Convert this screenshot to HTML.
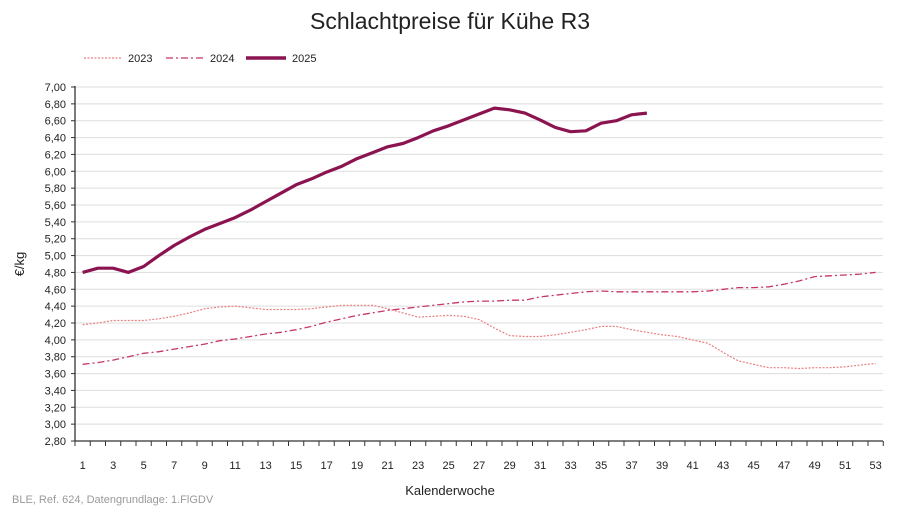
<!DOCTYPE html>
<html><head><meta charset="utf-8"><style>
body{margin:0;background:#fff;width:900px;height:506px;overflow:hidden;font-family:"Liberation Sans",sans-serif}
</style></head><body>
<svg id="s" width="900" height="506" xmlns="http://www.w3.org/2000/svg" font-family="Liberation Sans, sans-serif"></svg>
<script>
const s=document.getElementById('s');
const X=n=>75+15.25*(n-0.5), Y=v=>441-(v-2.8)*84.286;
let h='';
h+='<text x="450" y="29" font-size="23" text-anchor="middle" fill="#222">Schlachtpreise für Kühe R3</text>';
// legend
h+='<line x1="84" y1="58" x2="122" y2="58" stroke="#e88080" stroke-width="1.2" stroke-dasharray="2,1.5"/><text x="128" y="62" font-size="11" fill="#222">2023</text>';
h+='<line x1="166" y1="58" x2="204" y2="58" stroke="#c8346c" stroke-width="1.3" stroke-dasharray="7,3,2,3"/><text x="210" y="62" font-size="11" fill="#222">2024</text>';
h+='<line x1="246" y1="58" x2="286" y2="58" stroke="#8b1450" stroke-width="3.5"/><text x="292" y="62" font-size="11" fill="#222">2025</text>';
for(let i=0;i<=21;i++){const v=2.8+i*0.2,y=Y(v);
 if(i>0)h+=`<line x1="75" y1="${y}" x2="883" y2="${y}" stroke="#ddd" stroke-width="1"/>`;
 h+=`<line x1="71" y1="${y}" x2="75" y2="${y}" stroke="#333"/>`;
 h+=`<text x="66" y="${y+4}" font-size="11" text-anchor="end" fill="#222">${v.toFixed(2).replace('.',',')}</text>`;}
h+='<line x1="75" y1="86" x2="75" y2="441" stroke="#333" stroke-width="1.3"/>';
h+='<line x1="75" y1="441" x2="883" y2="441" stroke="#333" stroke-width="1.3"/>';
for(let i=0;i<=53;i++){const x=75+15.25*i;h+=`<line x1="${x}" y1="441" x2="${x}" y2="446" stroke="#333"/>`;}
for(let n=1;n<=53;n+=2)h+=`<text x="${X(n)}" y="469" font-size="11" text-anchor="middle" fill="#222">${n}</text>`;
h+='<text x="450" y="495" font-size="13" text-anchor="middle" fill="#222">Kalenderwoche</text>';
h+='<text x="24" y="264" font-size="13" text-anchor="middle" fill="#222" transform="rotate(-90 24 264)">€/kg</text>';
h+='<text x="12" y="503" font-size="11" fill="#999">BLE, Ref. 624, Datengrundlage: 1.FlGDV</text>';
const d23=[4.18,4.20,4.23,4.23,4.23,4.25,4.28,4.32,4.37,4.39,4.40,4.38,4.36,4.36,4.36,4.37,4.39,4.41,4.41,4.41,4.37,4.32,4.27,4.28,4.29,4.28,4.24,4.14,4.05,4.04,4.04,4.06,4.09,4.12,4.16,4.16,4.12,4.09,4.06,4.04,4.00,3.96,3.85,3.75,3.71,3.67,3.67,3.66,3.67,3.67,3.68,3.70,3.72];
const d24=[3.71,3.73,3.76,3.80,3.84,3.86,3.89,3.92,3.95,3.99,4.01,4.04,4.07,4.09,4.12,4.16,4.21,4.25,4.29,4.32,4.35,4.37,4.39,4.41,4.43,4.45,4.46,4.46,4.47,4.47,4.51,4.53,4.55,4.57,4.58,4.57,4.57,4.57,4.57,4.57,4.57,4.58,4.60,4.62,4.62,4.63,4.66,4.70,4.75,4.76,4.77,4.78,4.80];
const d25=[4.80,4.85,4.85,4.80,4.87,5.00,5.12,5.22,5.31,5.38,5.45,5.54,5.64,5.74,5.84,5.91,5.99,6.06,6.15,6.22,6.29,6.33,6.40,6.48,6.54,6.61,6.68,6.75,6.73,6.69,6.61,6.52,6.47,6.48,6.57,6.60,6.67,6.69];
const P=a=>a.map((v,i)=>X(i+1).toFixed(1)+','+Y(v).toFixed(1)).join(' ');
h+=`<polyline points="${P(d23)}" fill="none" stroke="#e88080" stroke-width="1.2" stroke-dasharray="2,1.5"/>`;
h+=`<polyline points="${P(d24)}" fill="none" stroke="#c8346c" stroke-width="1.3" stroke-dasharray="7,3,2,3"/>`;
h+=`<polyline points="${P(d25)}" fill="none" stroke="#8b1450" stroke-width="3.2" stroke-linejoin="round"/>`;
s.innerHTML=h;
</script>
</body></html>
